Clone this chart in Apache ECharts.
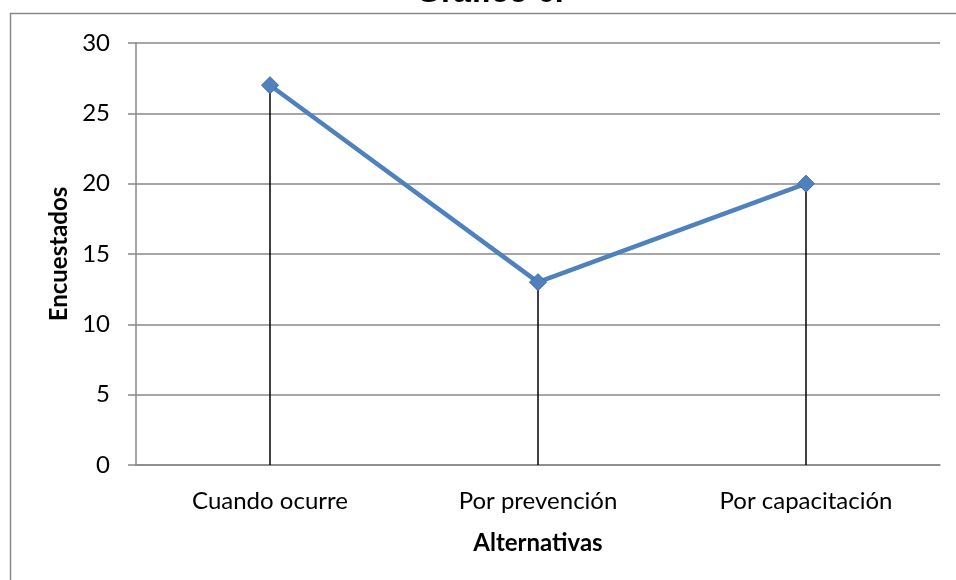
<!DOCTYPE html>
<html>
<head>
<meta charset="utf-8">
<script src="https://cdn.jsdelivr.net/npm/echarts@6/dist/echarts.min.js"></script>
<style>
  html, body { margin: 0; padding: 0; background: #fff; }
  #chart { width: 956px; height: 580px; }
</style>
</head>
<body>
<div id="chart"></div>
<script>
// Survey answers per alternative
const categories = ['Cuando ocurre', 'Por prevención', 'Por capacitación'];
const respondents = [27, 13, 20];
const yTicks = { min: 0, max: 30, interval: 5 };

const FONT = 'Lato, "Open Sans", sans-serif';

// vertical drop lines from each point down to the category axis
const dropLines = respondents.map((v, i) => [
  { coord: [i, v] },
  { coord: [i, 0] }
]);

const chart = echarts.init(document.getElementById('chart'));
chart.setOption({
  backgroundColor: '#fff',
  animation: false,
  title: {
    text: 'Gráfico 6.',
    left: 411,
    top: -28,
    textStyle: { fontFamily: '"Liberation Sans", Arial, sans-serif', fontSize: 32, fontWeight: 'bold', color: '#000' }
  },
  graphic: [{
    type: 'rect',
    shape: { x: 10.5, y: 13.5, width: 1000, height: 1000 },
    style: { fill: 'none', stroke: '#888', lineWidth: 1.5 },
    z: -1
  }],
  grid: { left: 136, right: 16, top: 43, bottom: 115 },
  xAxis: {
    type: 'category',
    data: categories,
    boundaryGap: true,
    name: 'Alternativas',
    nameLocation: 'middle',
    nameGap: 66,
    nameTextStyle: { fontFamily: FONT, fontSize: 24, fontWeight: 'bold', color: '#000' },
    axisLine: { lineStyle: { color: '#888', width: 1.5 } },
    axisTick: { show: false },
    axisLabel: { fontFamily: FONT, fontSize: 24, color: '#000', margin: 24 }
  },
  yAxis: {
    type: 'value',
    min: yTicks.min,
    max: yTicks.max,
    interval: yTicks.interval,
    name: 'Encuestados',
    nameLocation: 'middle',
    nameGap: 60,
    nameTextStyle: { fontFamily: FONT, fontSize: 24, fontWeight: 'bold', color: '#000' },
    axisLine: { show: true, lineStyle: { color: '#888', width: 1.5 } },
    axisTick: { show: true, length: 8, lineStyle: { color: '#888', width: 1.5 } },
    axisLabel: { fontFamily: FONT, fontSize: 24, color: '#000', margin: 26 },
    splitLine: { show: true, lineStyle: { color: '#888', width: 1.5 } }
  },
  series: [{
    type: 'line',
    data: respondents,
    symbol: 'diamond',
    symbolSize: 17,
    lineStyle: { color: '#4F81BD', width: 4.5 },
    itemStyle: { color: '#4F81BD', borderColor: '#3C6DA8', borderWidth: 1 },
    z: 3,
    markLine: {
      silent: true,
      symbol: ['none', 'none'],
      label: { show: false },
      lineStyle: { color: '#000', width: 1.5, type: 'solid' },
      data: dropLines,
      z: 2
    }
  }]
});
</script>
</body>
</html>
